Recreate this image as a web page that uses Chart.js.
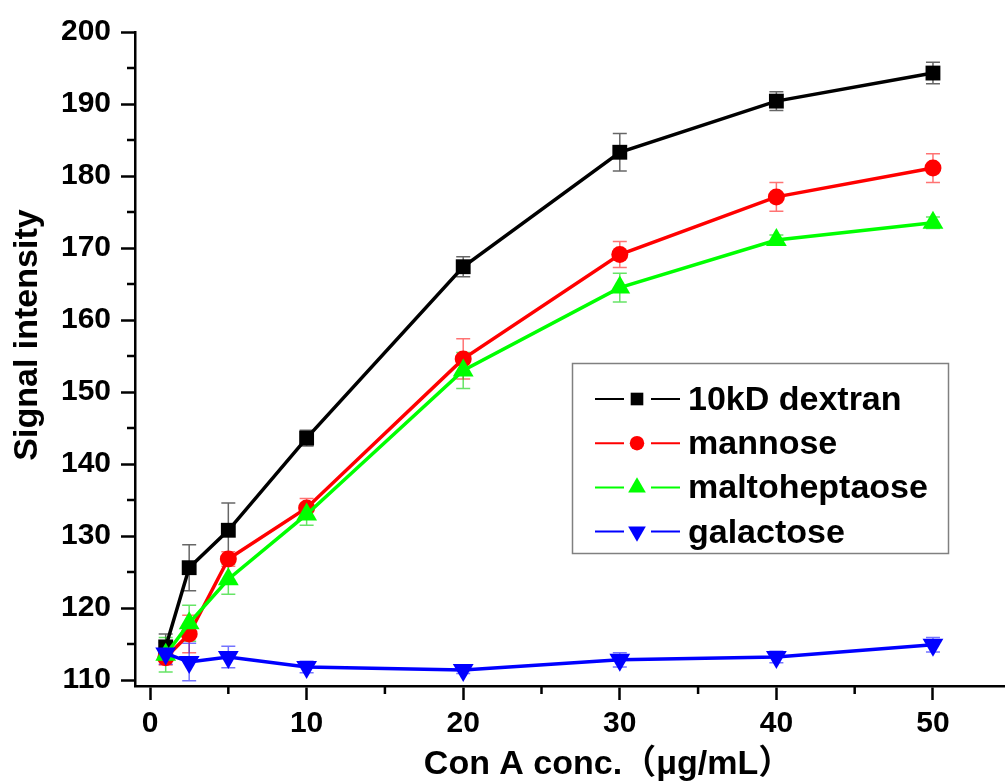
<!DOCTYPE html>
<html>
<head>
<meta charset="utf-8">
<script src="https://cdn.jsdelivr.net/npm/chart.js"></script>
<style>
  html, body { margin: 0; padding: 0; background: #fff; }
  #outer { width: 1005px; height: 783px; overflow: hidden; }
  #wrap { width: 1017px; height: 783px; position: relative; }
</style>
</head>
<body>
<div id="outer"><div id="wrap"><canvas id="chart"></canvas></div></div>
<script>
// Con A concentration (ug/mL)
const conc = [1, 2.5, 5, 10, 20, 30, 40, 50];

const dextran          = [114.6, 125.6, 130.8, 143.6, 167.4, 183.3, 190.4, 194.3];
const dextranErr       = [1.8, 3.2, 3.8, 1.1, 1.4, 2.6, 1.3, 1.5];
const mannose          = [113.1, 116.4, 126.8, 133.9, 154.6, 169.1, 177.1, 181.1];
const mannoseErr       = [1.0, 2.6, 1.0, 1.3, 2.8, 1.8, 2.0, 2.0];
const maltoheptaose    = [113.5, 117.9, 124.0, 133.0, 153.0, 164.5, 171.1, 173.5];
const maltoheptaoseErr = [2.4, 2.5, 2.1, 1.5, 2.5, 2.0, 0.7, 0.8];
const galactose        = [113.7, 112.5, 113.2, 111.8, 111.4, 112.8, 113.2, 114.9];
const galactoseErr     = [1.5, 2.6, 1.5, 0.8, 0.5, 1.0, 0.8, 1.0];

const seriesNames = ["10kD dextran", "mannose", "maltoheptaose", "galactose"];

const xTicks = [0, 10, 20, 30, 40, 50];
const xMinorTicks = [5, 15, 25, 35, 45];
const yTicks = [110, 120, 130, 140, 150, 160, 170, 180, 190, 200];
const yMinorTicks = [115, 125, 135, 145, 155, 165, 175, 185, 195];

const FONT = "'Liberation Sans', Arial, 'Noto Sans CJK SC', sans-serif";

function pts(ys) {
    return conc.map((x, i) => ({ x: x, y: ys[i] }));
}

const series = [
    { label: seriesNames[0], data: dextran, err: dextranErr, color: "#000000", errColor: "rgba(0,0,0,0.6)", style: "rect", radius: 10.5, rot: 0 },
    { label: seriesNames[1], data: mannose, err: mannoseErr, color: "#ff0000", errColor: "rgba(255,0,0,0.55)", style: "circle", radius: 8.5, rot: 0 },
    { label: seriesNames[2], data: maltoheptaose, err: maltoheptaoseErr, color: "#00ff00", errColor: "rgba(0,210,0,0.6)", style: "triangle", radius: 12, rot: 0 },
    { label: seriesNames[3], data: galactose, err: galactoseErr, color: "#0000ff", errColor: "rgba(0,0,255,0.55)", style: "triangle", radius: 12, rot: 180 }
];

function drawMarker(ctx, s, x, y, r) {
    ctx.fillStyle = s.color;
    ctx.beginPath();
    if (s.style === "rect") {
        const h = r * Math.SQRT1_2;
        ctx.rect(x - h, y - h, 2 * h, 2 * h);
    } else if (s.style === "circle") {
        ctx.arc(x, y, r, 0, Math.PI * 2);
    } else {
        const dir = s.rot === 180 ? -1 : 1;
        ctx.moveTo(x, y - dir * r);
        ctx.lineTo(x + r * Math.sqrt(3) / 2, y + dir * r / 2);
        ctx.lineTo(x - r * Math.sqrt(3) / 2, y + dir * r / 2);
        ctx.closePath();
    }
    ctx.fill();
}

const errorBars = {
    id: "errorBars",
    beforeDatasetsDraw(chart) {
        const ctx = chart.ctx;
        const xs = chart.scales.x, ys = chart.scales.y;
        ctx.save();
        ctx.lineWidth = 1.5;
        series.forEach(s => {
            ctx.strokeStyle = s.errColor;
            s.data.forEach((v, i) => {
                const px = xs.getPixelForValue(conc[i]);
                const top = ys.getPixelForValue(v + s.err[i]);
                const bot = ys.getPixelForValue(v - s.err[i]);
                ctx.beginPath();
                ctx.moveTo(px, top); ctx.lineTo(px, bot);
                ctx.moveTo(px - 7, top); ctx.lineTo(px + 7, top);
                ctx.moveTo(px - 7, bot); ctx.lineTo(px + 7, bot);
                ctx.stroke();
            });
        });
        ctx.restore();
    }
};

const extras = {
    id: "extras",
    afterDraw(chart) {
        const ctx = chart.ctx;
        const xs = chart.scales.x, ys = chart.scales.y;
        const area = chart.chartArea;
        ctx.save();

        // minor ticks
        ctx.strokeStyle = "#000";
        ctx.lineWidth = 2.5;
        ctx.beginPath();
        xMinorTicks.forEach(v => {
            const px = xs.getPixelForValue(v);
            ctx.moveTo(px, area.bottom); ctx.lineTo(px, area.bottom + 8);
        });
        yMinorTicks.forEach(v => {
            const py = ys.getPixelForValue(v);
            ctx.moveTo(area.left - 8, py); ctx.lineTo(area.left, py);
        });
        ctx.stroke();

        // axis titles
        ctx.fillStyle = "#000";
        ctx.font = "bold 34px " + FONT;
        ctx.textAlign = "center";
        ctx.textBaseline = "alphabetic";
        ctx.fillText("Con A conc.\uFF08\u03BCg/mL\uFF09", 608, 774);
        ctx.save();
        ctx.translate(37, 335);
        ctx.rotate(-Math.PI / 2);
        ctx.fillText("Signal intensity", 0, 0);
        ctx.restore();

        // legend
        ctx.strokeStyle = "#808080";
        ctx.lineWidth = 1.5;
        ctx.strokeRect(572.5, 363.5, 376, 190);
        ctx.textAlign = "left";
        series.forEach((s, i) => {
            const base = 410 + 44.2 * i;
            const my = base - 11;
            ctx.strokeStyle = s.color;
            ctx.lineWidth = 2;
            ctx.beginPath();
            ctx.moveTo(595, my); ctx.lineTo(624, my);
            ctx.moveTo(651, my); ctx.lineTo(680, my);
            ctx.stroke();
            drawMarker(ctx, s, 637, my, s.radius * 0.85);
            ctx.fillStyle = "#000";
            ctx.fillText(s.label, 688, base);
        });
        ctx.restore();
    }
};

const tickFont = { family: FONT, size: 30, weight: "bold" };

new Chart(document.getElementById("chart"), {
    type: "line",
    data: {
        datasets: series.map((s, i) => ({
            label: s.label,
            data: pts(s.data),
            borderColor: s.color,
            backgroundColor: s.color,
            borderWidth: 3.5,
            tension: 0,
            pointStyle: s.style,
            pointRadius: s.radius,
            pointHoverRadius: s.radius,
            pointRotation: s.rot,
            pointBorderWidth: 0,
            order: series.length - i
        }))
    },
    options: {
        responsive: true,
        maintainAspectRatio: false,
        animation: false,
        layout: { padding: { top: 32, right: 0, left: 0, bottom: 0 } },
        plugins: {
            legend: { display: false },
            tooltip: { enabled: false }
        },
        scales: {
            x: {
                type: "linear",
                min: -0.96,
                max: 54.6,
                afterBuildTicks: s => { s.ticks = xTicks.map(v => ({ value: v })); },
                afterFit: s => { s.height = 97; },
                ticks: { font: tickFont, color: "#000", padding: 6, maxRotation: 0, autoSkip: false },
                grid: { drawOnChartArea: false, tickLength: 14, tickWidth: 2.5, tickColor: "#000" },
                border: { color: "#000", width: 2.5 }
            },
            y: {
                min: 109.17,
                max: 200,
                afterBuildTicks: s => { s.ticks = yTicks.map(v => ({ value: v })); },
                afterFit: s => { s.width = 135; },
                ticks: { font: tickFont, color: "#000", padding: 10, autoSkip: false },
                grid: { drawOnChartArea: false, tickLength: 14, tickWidth: 2.5, tickColor: "#000" },
                border: { color: "#000", width: 2.5 }
            }
        }
    },
    plugins: [errorBars, extras]
});
</script>
</body>
</html>
